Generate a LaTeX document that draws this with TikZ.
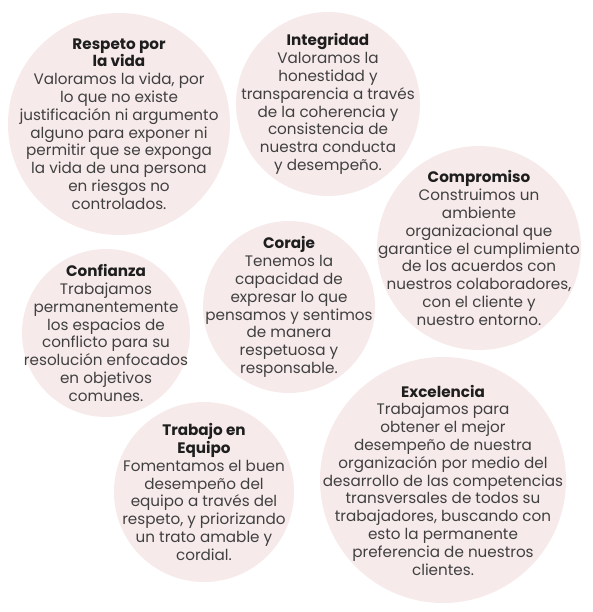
\documentclass[tikz,border=0pt]{standalone}
\usepackage{fontspec}
\setmainfont{Poppins}
\definecolor{fillpink}{HTML}{F7EAEA}
\definecolor{bodytxt}{HTML}{404040}
\definecolor{titletxt}{HTML}{1E1E1E}
\newcommand{\ttl}[1]{\textcolor{titletxt}{\textbf{#1}}}
\begin{document}
\begin{tikzpicture}[x=1pt,y=-1pt,
  blob/.style={circle, fill=fillpink, draw=none, inner sep=0pt, minimum size=#1},
  txtbox/.style={align=center, text=bodytxt, font=\fontsize{15.2}{17.8}\selectfont, inner sep=0pt}]
\useasboundingbox (0,0) rectangle (592,612);

\node[blob=222pt] (c1) at (119,124) {};
\node[blob=184pt] (c2) at (328,104) {};
\node[blob=204pt] (c3) at (479,248) {};
\node[blob=168pt] (c4) at (106,333) {};
\node[blob=172pt] (c5) at (289,307) {};
\node[blob=180pt] (c6) at (204,492) {};
\node[blob=246pt] (c7) at (443,480) {};

\node[txtbox] (t1) at (c1.center) {\ttl{Respeto por}\\\ttl{la vida}\\Valoramos la vida, por\\lo que no existe\\justificación ni argumento\\alguno para exponer ni\\permitir que se exponga\\la vida de una persona\\en riesgos no\\controlados.};
\node[txtbox] (t2) at (c2.center) {\ttl{Integridad}\\Valoramos la\\honestidad y\\transparencia a través\\de la coherencia y\\consistencia de\\nuestra conducta\\y desempeño.};
\node[txtbox] (t3) at (c3.center) {\ttl{Compromiso}\\Construimos un\\ambiente\\organizacional que\\garantice el cumplimiento\\de los acuerdos con\\nuestros colaboradores,\\con el cliente y\\nuestro entorno.};
\node[txtbox] (t4) at (c4.center) {\ttl{Confianza}\\Trabajamos\\permanentemente\\los espacios de\\conflicto para su\\resolución enfocados\\en objetivos\\comunes.};
\node[txtbox] (t5) at (c5.center) {\ttl{Coraje}\\Tenemos la\\capacidad de\\expresar lo que\\pensamos y sentimos\\de manera\\respetuosa y\\responsable.};
\node[txtbox] (t6) at (c6.center) {\ttl{Trabajo en}\\\ttl{Equipo}\\Fomentamos el buen\\desempeño del\\equipo a través del\\respeto, y priorizando\\un trato amable y\\cordial.};
\node[txtbox] (t7) at (c7.center) {\ttl{Excelencia}\\Trabajamos para\\obtener el mejor\\desempeño de nuestra\\organización por medio del\\desarrollo de las competencias\\transversales de todos su\\trabajadores, buscando con\\esto la permanente\\preferencia de nuestros\\clientes.};
\end{tikzpicture}
\end{document}
